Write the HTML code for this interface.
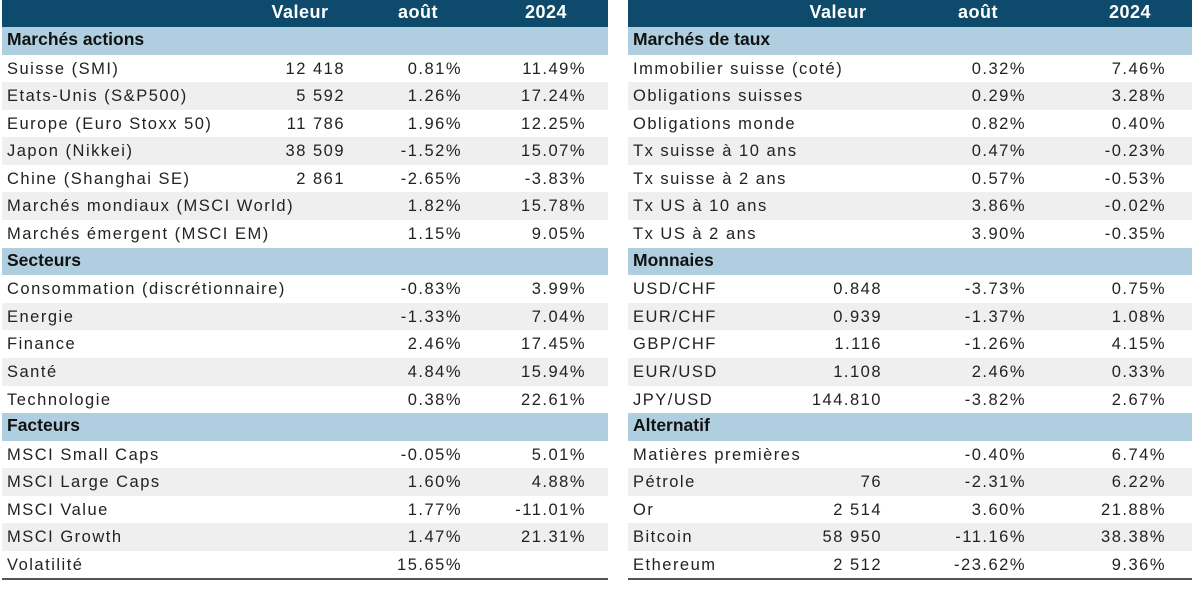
<!DOCTYPE html>
<html><head><meta charset="utf-8"><style>
body{margin:0;width:1192px;height:593px;background:#fff;position:relative;overflow:hidden;font-family:"Liberation Sans",Arial,sans-serif}
.t{position:absolute;top:0}
.h{height:27px;background:#0e4a6b;color:#fff;font-weight:bold;font-size:18px;position:relative}
.h span{position:absolute;top:2px;transform:translateX(-50%);letter-spacing:0.5px}
.s{height:27.5px;background:#afcfe0;font-weight:bold;font-size:17.5px;line-height:24px;padding-left:5px;box-sizing:border-box;color:#111}
.r{height:27.6px;position:relative;font-size:16.5px;letter-spacing:1.5px;color:#222;line-height:28px}
.r.g{background:#efefef}
.r span{position:absolute;top:0}
.r .a{left:5px}
.r .b,.r .c,.r .d{text-align:right}
.line{position:absolute;height:2px;background:#555}
</style></head><body>
<div class="t" id="L" style="left:2px;width:606px"></div>
<div class="t" id="R" style="left:628px;width:564px"></div>
<div class="line" style="left:2px;width:606px;top:578px"></div>
<div class="line" style="left:628px;width:564px;top:578px"></div>
<script>
function build(el,hc,rc,data){
 let h='<div class="h"><span style="left:'+hc[0]+'px">Valeur</span><span style="left:'+hc[1]+'px">août</span><span style="left:'+hc[2]+'px">2024</span></div>';
 data.forEach(sec=>{
  h+='<div class="s">'+sec[0]+'</div>';
  sec[1].forEach((r,i)=>{
   h+='<div class="r'+(i%2?' g':'')+'"><span class="a">'+r[0]+'</span>'+
   '<span class="b" style="right:'+rc[0]+'px">'+r[1]+'</span>'+
   '<span class="c" style="right:'+rc[1]+'px">'+r[2]+'</span>'+
   '<span class="d" style="right:'+rc[2]+'px">'+r[3]+'</span></div>';
  });
 });
 document.getElementById(el).innerHTML=h;
}
build('L',[298,416,544],[263,146,22],[
['Marchés actions',[['Suisse (SMI)','12 418','0.81%','11.49%'],['Etats-Unis (S&amp;P500)','5 592','1.26%','17.24%'],['Europe (Euro Stoxx 50)','11 786','1.96%','12.25%'],['Japon (Nikkei)','38 509','-1.52%','15.07%'],['Chine (Shanghai SE)','2 861','-2.65%','-3.83%'],['Marchés mondiaux (MSCI World)','','1.82%','15.78%'],['Marchés émergent (MSCI EM)','','1.15%','9.05%']]],
['Secteurs',[['Consommation (discrétionnaire)','','-0.83%','3.99%'],['Energie','','-1.33%','7.04%'],['Finance','','2.46%','17.45%'],['Santé','','4.84%','15.94%'],['Technologie','','0.38%','22.61%']]],
['Facteurs',[['MSCI Small Caps','','-0.05%','5.01%'],['MSCI Large Caps','','1.60%','4.88%'],['MSCI Value','','1.77%','-11.01%'],['MSCI Growth','','1.47%','21.31%'],['Volatilité','','15.65%','']]]
]);
build('R',[210,350,502],[310,166,26],[
['Marchés de taux',[['Immobilier suisse (coté)','','0.32%','7.46%'],['Obligations suisses','','0.29%','3.28%'],['Obligations monde','','0.82%','0.40%'],['Tx suisse à 10 ans','','0.47%','-0.23%'],['Tx suisse à 2 ans','','0.57%','-0.53%'],['Tx US à 10 ans','','3.86%','-0.02%'],['Tx US à 2 ans','','3.90%','-0.35%']]],
['Monnaies',[['USD/CHF','0.848','-3.73%','0.75%'],['EUR/CHF','0.939','-1.37%','1.08%'],['GBP/CHF','1.116','-1.26%','4.15%'],['EUR/USD','1.108','2.46%','0.33%'],['JPY/USD','144.810','-3.82%','2.67%']]],
['Alternatif',[['Matières premières','','-0.40%','6.74%'],['Pétrole','76','-2.31%','6.22%'],['Or','2 514','3.60%','21.88%'],['Bitcoin','58 950','-11.16%','38.38%'],['Ethereum','2 512','-23.62%','9.36%']]]
]);
</script>
</body></html>
